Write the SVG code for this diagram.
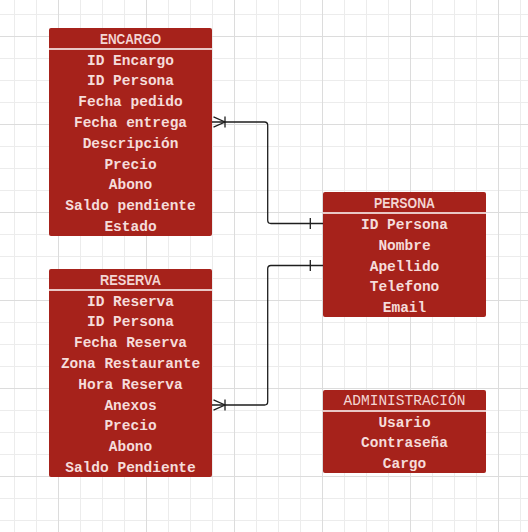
<svg xmlns="http://www.w3.org/2000/svg" width="528" height="532" viewBox="0 0 528 532">
<defs>
<pattern id="grid" x="58" y="36" width="88" height="88" patternUnits="userSpaceOnUse">
<path d="M22.5 0V88M44.5 0V88M66.5 0V88M0 22.5H88M0 44.5H88M0 66.5H88" stroke="#ececec" stroke-width="1" fill="none"/>
<path d="M0.5 0V88M0 0.5H88" stroke="#dcdcdc" stroke-width="1" fill="none"/>
</pattern>
</defs>
<style>
.box{fill:#a6221b}
.sep{stroke:#ffffff;stroke-width:1.6}
.hd{font-family:"Liberation Sans",Arial,sans-serif;font-weight:bold;font-size:14px;fill:#f3d5d3;text-anchor:middle}
.hdm{font-family:"Liberation Mono","Courier New",monospace;font-size:14.5px;fill:#f3d5d3;text-anchor:middle}
.row{font-family:"Liberation Mono","Courier New",monospace;font-weight:bold;font-size:14.5px;fill:#f5dcda;text-anchor:middle}
.ln{fill:none;stroke:#1e1e1e;stroke-width:1.3}
</style>
<rect width="528" height="532" fill="#ffffff"/>
<rect width="528" height="532" fill="url(#grid)"/>

<g id="connectors">
<path class="ln" d="M212 122H264.5Q267.7 122 267.7 125.2V220.3Q267.7 223.5 270.9 223.5H323"/>
<path class="ln" d="M213.5 116.8L225 122L213.5 127.2M225 116.5V127.5"/>
<path class="ln" d="M310.3 218V229"/>
<path class="ln" d="M323 265.5H270.9Q267.7 265.5 267.7 268.7V401.8Q267.7 405 264.5 405H212"/>
<path class="ln" d="M213.5 399.8L225 405L213.5 410.2M225 399.5V410.5"/>
<path class="ln" d="M310.3 260V271"/>
</g>

<g id="encargo">
<rect class="box" x="49" y="28" width="163" height="208" rx="2"/>
<line class="sep" x1="49" y1="49" x2="212" y2="49"/>
<text class="hd" x="130.5" y="43.5" textLength="61" lengthAdjust="spacingAndGlyphs">ENCARGO</text>
<text class="row" x="130.5" y="64.5">ID Encargo</text>
<text class="row" x="130.5" y="85.3">ID Persona</text>
<text class="row" x="130.5" y="106.1">Fecha pedido</text>
<text class="row" x="130.5" y="126.9">Fecha entrega</text>
<text class="row" x="130.5" y="147.7">Descripción</text>
<text class="row" x="130.5" y="168.5">Precio</text>
<text class="row" x="130.5" y="189.3">Abono</text>
<text class="row" x="130.5" y="210.1">Saldo pendiente</text>
<text class="row" x="130.5" y="230.9">Estado</text>
</g>

<g id="reserva">
<rect class="box" x="49" y="269" width="163" height="208" rx="2"/>
<line class="sep" x1="49" y1="290" x2="212" y2="290"/>
<text class="hd" x="130.5" y="284.5" textLength="61" lengthAdjust="spacingAndGlyphs">RESERVA</text>
<text class="row" x="130.5" y="305.5">ID Reserva</text>
<text class="row" x="130.5" y="326.3">ID Persona</text>
<text class="row" x="130.5" y="347.1">Fecha Reserva</text>
<text class="row" x="130.5" y="367.9">Zona Restaurante</text>
<text class="row" x="130.5" y="388.7">Hora Reserva</text>
<text class="row" x="130.5" y="409.5">Anexos</text>
<text class="row" x="130.5" y="430.3">Precio</text>
<text class="row" x="130.5" y="451.1">Abono</text>
<text class="row" x="130.5" y="471.9">Saldo Pendiente</text>
</g>

<g id="persona">
<rect class="box" x="323" y="192" width="163" height="125" rx="2"/>
<line class="sep" x1="323" y1="213" x2="486" y2="213"/>
<text class="hd" x="404.5" y="207.5" textLength="61" lengthAdjust="spacingAndGlyphs">PERSONA</text>
<text class="row" x="404.5" y="229">ID Persona</text>
<text class="row" x="404.5" y="249.8">Nombre</text>
<text class="row" x="404.5" y="270.6">Apellido</text>
<text class="row" x="404.5" y="291.4">Telefono</text>
<text class="row" x="404.5" y="312.2">Email</text>
</g>

<g id="administracion">
<rect class="box" x="323" y="390" width="163" height="83" rx="2"/>
<line class="sep" x1="323" y1="411" x2="486" y2="411"/>
<text class="hdm" x="404.5" y="405">ADMINISTRACIÓN</text>
<text class="row" x="404.5" y="426.5">Usario</text>
<text class="row" x="404.5" y="447.3">Contraseña</text>
<text class="row" x="404.5" y="468.1">Cargo</text>
</g>
</svg>
